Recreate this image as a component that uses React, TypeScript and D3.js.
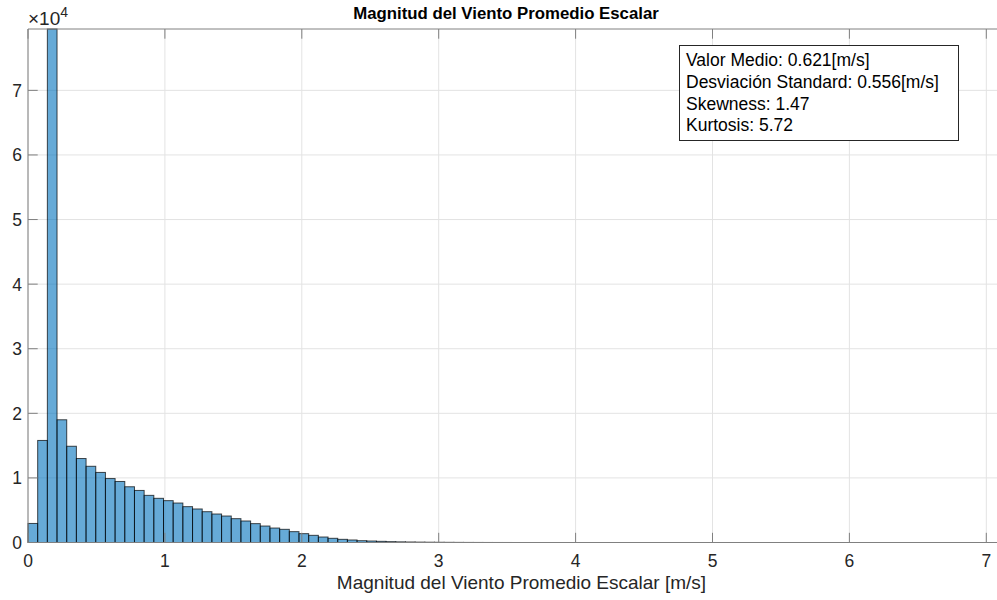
import React from "react";
import * as d3 from "d3";

const binWidth = 0.0707;
const counts = [
  2950, 15800, 79500, 19000, 14900, 13000, 11800, 10850, 9900, 9450,
  8630, 8060, 7300, 6840, 6480, 6110, 5550, 5190, 4770, 4410,
  4100, 3690, 3330, 2920, 2550, 2240, 2040, 1680, 1370, 1110,
  850, 650, 490, 390, 280, 230, 180, 130, 100, 80,
  60, 45, 35, 25, 18, 12, 8, 5, 3, 2,
];
const xTicks = [0, 1, 2, 3, 4, 5, 6, 7];
const yTicks = [0, 1, 2, 3, 4, 5, 6, 7];
const title = "Magnitud del Viento Promedio Escalar";
const xLabel = "Magnitud del Viento Promedio Escalar [m/s]";
const statsLines = [
  "Valor Medio: 0.621[m/s]",
  "Desviación Standard: 0.556[m/s]",
  "Skewness: 1.47",
  "Kurtosis: 5.72",
];

const W = 997;
const H = 600;
const left = 28;
const top = 29;
const bottom = 542.5;
const pxPerUnit = 136.9;
const xMax = 7.1;
const yMax = 79500;

export default function App() {
  const x = d3.scaleLinear().domain([0, xMax]).range([left, left + xMax * pxPerUnit]);
  const y = d3.scaleLinear().domain([0, yMax]).range([bottom, top]);
  const font = "Arial, 'Liberation Sans', Helvetica, sans-serif";
  const right = x(xMax);
  const tickLen = 9.7;
  const axisColor = "#808080";
  const textColor = "#262626";

  return (
    <svg width={W} height={H} style={{ position: "absolute", left: 0, top: 0, background: "#fff" }} fontFamily={font}>
      <rect x={0} y={0} width={W} height={H} fill="#fff" />
      {/* grid */}
      {xTicks.map((t) => (
        <line key={"gx" + t} x1={x(t)} x2={x(t)} y1={top} y2={bottom} stroke="#e3e3e3" strokeWidth={1} />
      ))}
      {yTicks.map((t) => (
        <line key={"gy" + t} x1={left} x2={right} y1={y(t * 1e4)} y2={y(t * 1e4)} stroke="#e3e3e3" strokeWidth={1} />
      ))}
      {/* bars */}
      {counts.map((c, i) =>
        c > 0 ? (
          <rect
            key={"b" + i}
            x={x(i * binWidth)}
            y={y(Math.min(c, yMax))}
            width={x((i + 1) * binWidth) - x(i * binWidth)}
            height={bottom - y(Math.min(c, yMax))}
            fill="#0072BD"
            fillOpacity={0.6}
            stroke="#000"
            strokeOpacity={0.7}
            strokeWidth={1}
          />
        ) : null
      )}
      {/* axes box */}
      <line x1={left} x2={right} y1={bottom} y2={bottom} stroke={axisColor} strokeWidth={1} />
      <line x1={left} x2={right} y1={top} y2={top} stroke={axisColor} strokeWidth={1} />
      <line x1={left} x2={left} y1={top} y2={bottom} stroke={axisColor} strokeWidth={1} />
      <line x1={right} x2={right} y1={top} y2={bottom} stroke={axisColor} strokeWidth={1} />
      {/* x ticks */}
      {xTicks.map((t) => (
        <g key={"xt" + t}>
          <line x1={x(t)} x2={x(t)} y1={bottom} y2={bottom - tickLen} stroke={axisColor} />
          <line x1={x(t)} x2={x(t)} y1={top} y2={top + tickLen} stroke={axisColor} />
          <text x={x(t)} y={bottom + 24} textAnchor="middle" fontSize={17.5} fill={textColor}>
            {t}
          </text>
        </g>
      ))}
      {/* y ticks */}
      {yTicks.map((t) => (
        <g key={"yt" + t}>
          <line x1={left} x2={left + tickLen} y1={y(t * 1e4)} y2={y(t * 1e4)} stroke={axisColor} />
          <text x={left - 6} y={y(t * 1e4) + 6.5} textAnchor="end" fontSize={17.5} fill={textColor}>
            {t}
          </text>
        </g>
      ))}
      {/* exponent */}
      <text x={28} y={25} fontSize={19} fill={textColor}>
        ×10
        <tspan dy={-8} fontSize={14}>4</tspan>
      </text>
      {/* title */}
      <text x={506} y={19} textAnchor="middle" fontSize={16.8} fontWeight="bold" fill="#000">
        {title}
      </text>
      {/* x label */}
      <text x={521.5} y={589} textAnchor="middle" fontSize={19} fill={textColor}>
        {xLabel}
      </text>
      {/* stats box */}
      <rect x={679.5} y={45.5} width={279} height={95} fill="#fff" stroke="#262626" strokeWidth={1} />
      {statsLines.map((s, i) => (
        <text key={"s" + i} x={686} y={66 + i * 21.8} fontSize={17.5} fill="#000">
          {s}
        </text>
      ))}
    </svg>
  );
}
